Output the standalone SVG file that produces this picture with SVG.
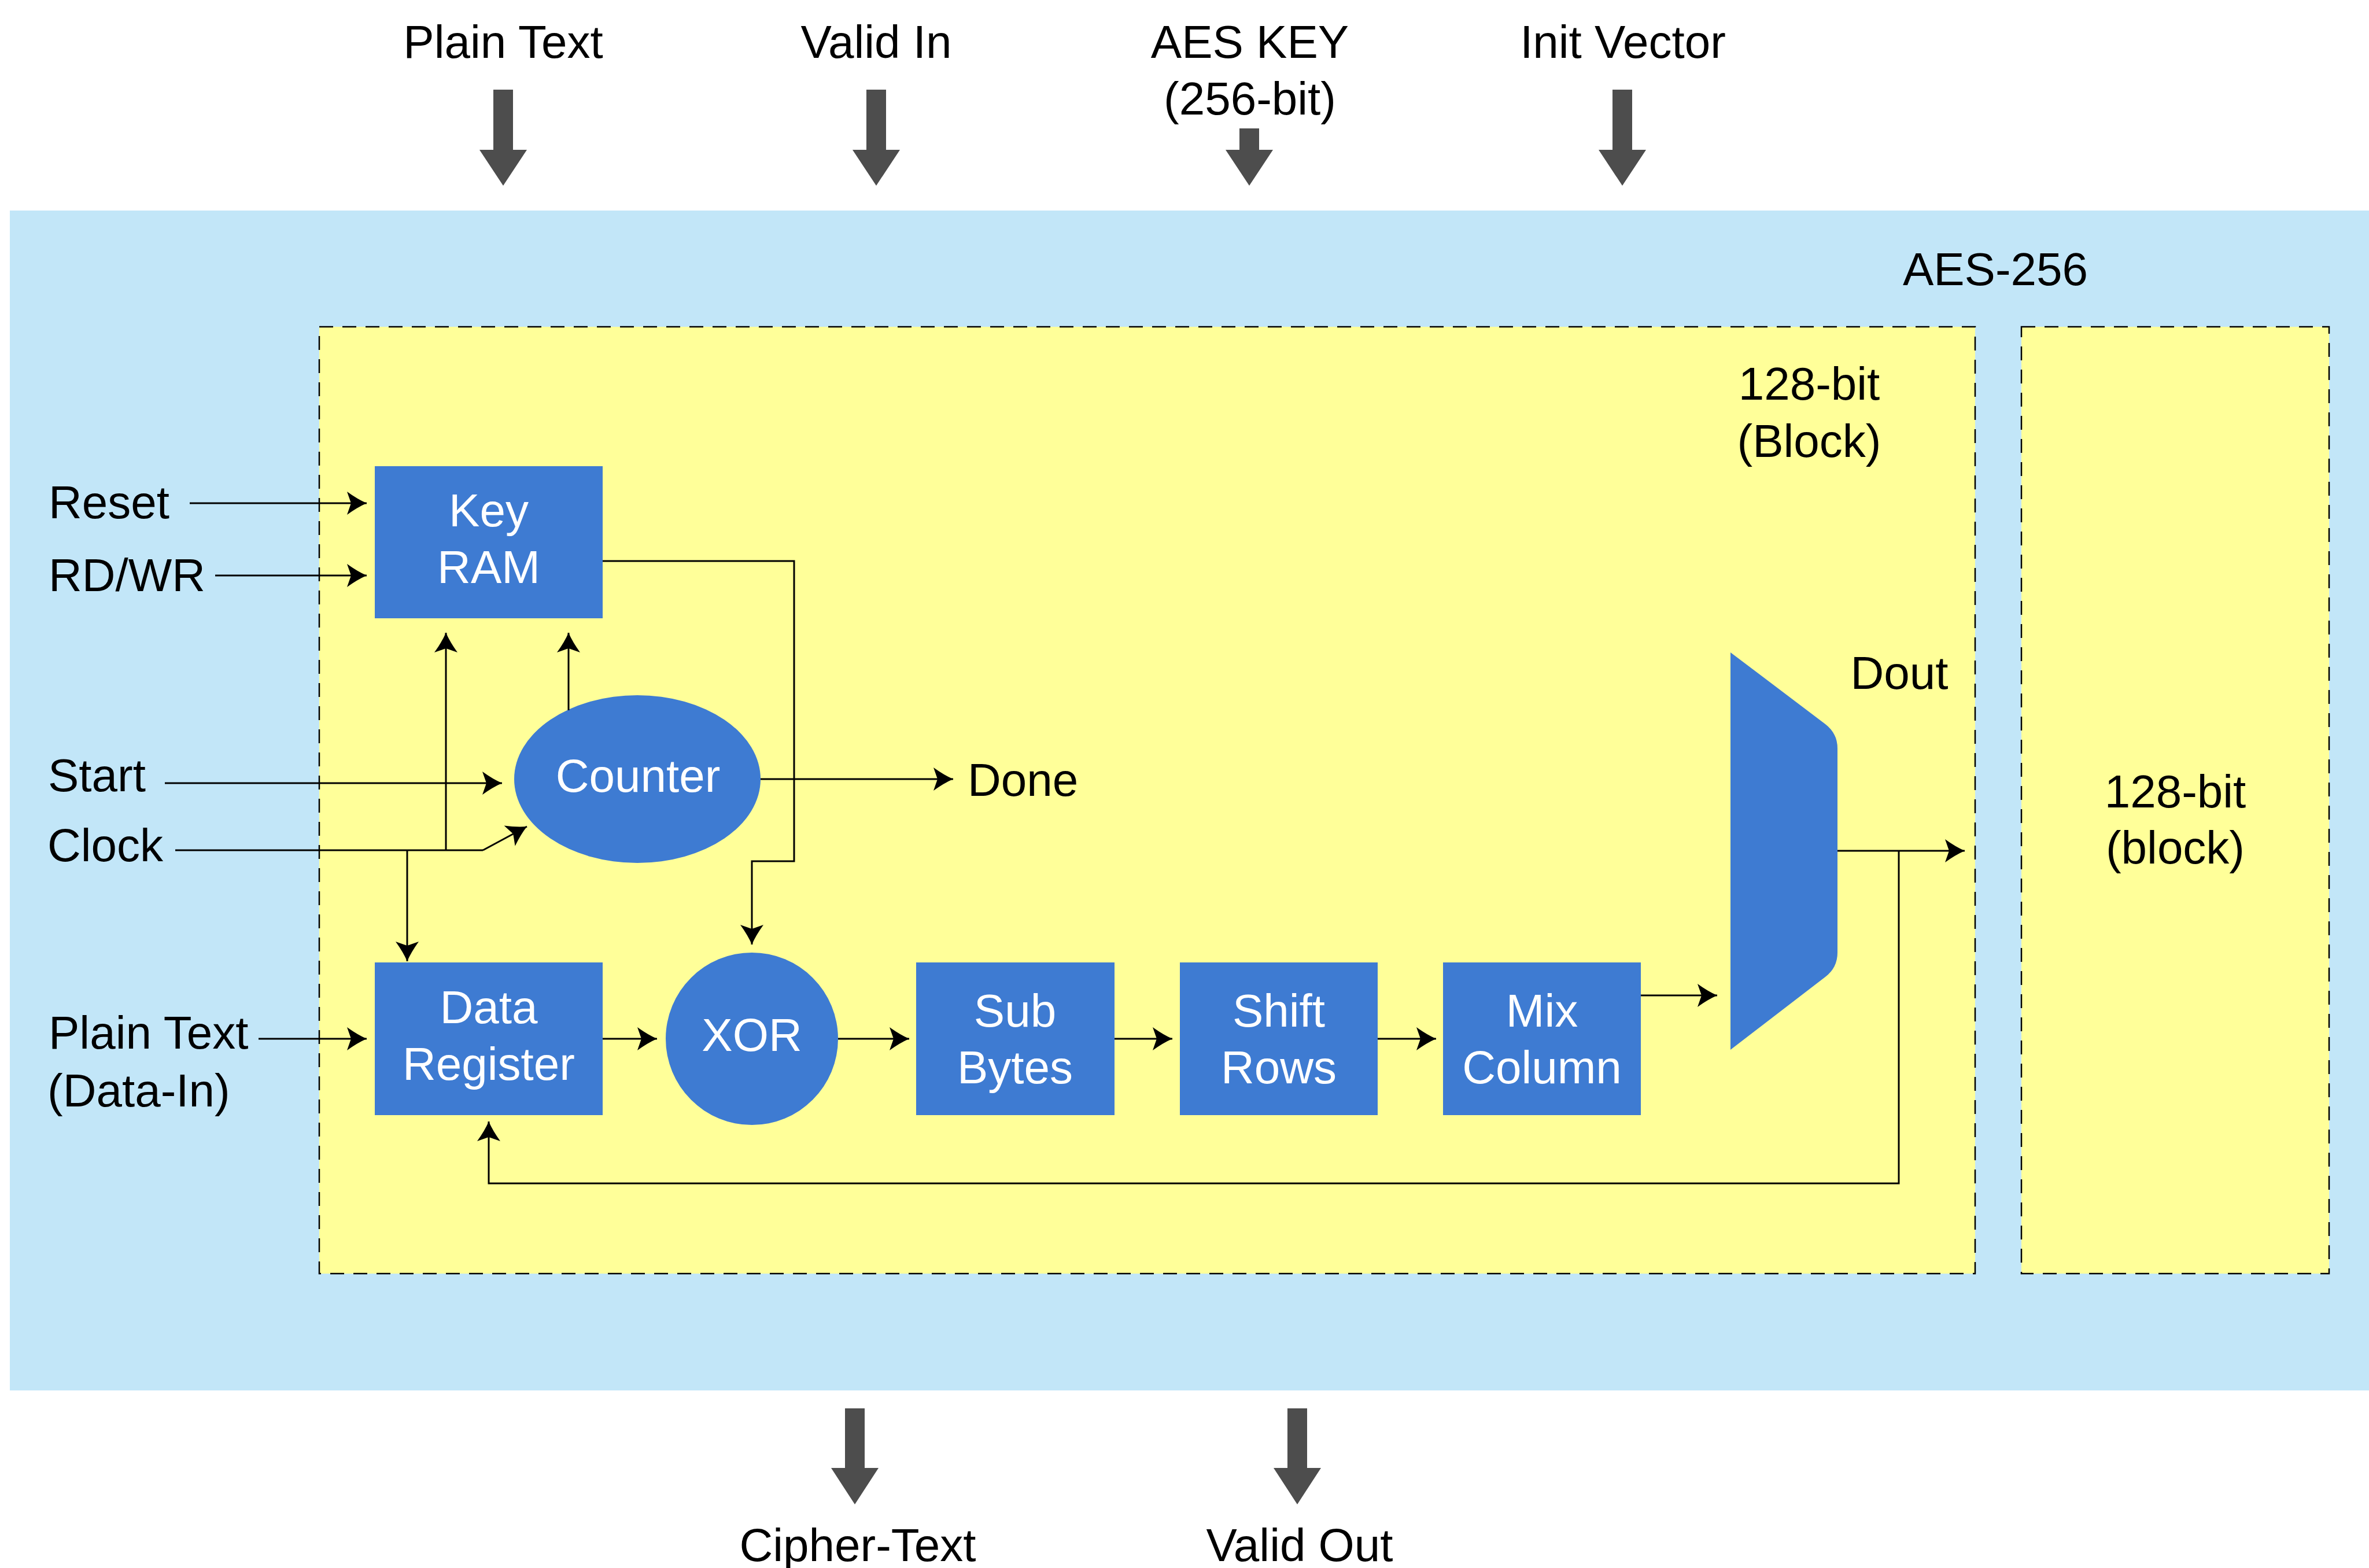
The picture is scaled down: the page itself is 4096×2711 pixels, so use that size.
<svg xmlns="http://www.w3.org/2000/svg" width="4096" height="2711" viewBox="0 0 4096 2711">
<defs>
<style>
text{font-family:"Liberation Sans",Arial,sans-serif;font-size:80px;fill:#000}
.w{fill:#fff}
.c{text-anchor:middle}
.blk{fill:#3e7bd2}
.ln{fill:none;stroke:#000;stroke-width:3}
.ar{fill:none;stroke:#000;stroke-width:3;marker-end:url(#arr)}
.big{fill:#4d4d4d}
.dash{fill:#ffff99;stroke:#000;stroke-width:2.5;stroke-dasharray:24 16}
</style>
<marker id="arr" viewBox="0 0 40 44" markerUnits="userSpaceOnUse" markerWidth="40" markerHeight="44" refX="36" refY="22" orient="auto">
<path d="M2,2 Q20,15 36,22 Q20,29 2,42 L9,22 Z" fill="#000"/>
</marker>
</defs>
<rect width="4096" height="2711" fill="#fff"/>
<g id="aes256">
<rect x="17" y="364" width="4079" height="2040" fill="#c2e6f8"/>
<text class="c" x="3450" y="493">AES-256</text>
</g>
<g id="block128">
<rect class="dash" x="552" y="565" width="2863" height="1637"/>
<text class="c" x="3128" y="691">128-bit</text>
<text class="c" x="3128" y="790">(Block)</text>
</g>
<g id="block128b">
<rect class="dash" x="3495" y="565" width="532" height="1637"/>
<text class="c" x="3761" y="1396">128-bit</text>
<text class="c" x="3761" y="1493">(block)</text>
</g>
<g id="io-top">
<text class="c" x="870" y="100">Plain Text</text>
<text class="c" x="1515" y="100">Valid In</text>
<text class="c" x="2161" y="100">AES KEY</text>
<text class="c" x="2161" y="198">(256-bit)</text>
<text class="c" x="2806" y="100">Init Vector</text>
<polygon class="big" points="853,155 887,155 887,259 911,259 870,321 829,259 853,259"/>
<polygon class="big" points="1498,155 1532,155 1532,259 1556,259 1515,321 1474,259 1498,259"/>
<polygon class="big" points="2143,222 2177,222 2177,259 2201,259 2160,321 2119,259 2143,259"/>
<polygon class="big" points="2788,155 2822,155 2822,259 2846,259 2805,321 2764,259 2788,259"/>
</g>
<g id="io-bottom">
<polygon class="big" points="1461,2435 1495,2435 1495,2538 1519,2538 1478,2601 1437,2538 1461,2538"/>
<polygon class="big" points="2226,2435 2260,2435 2260,2538 2284,2538 2243,2601 2202,2538 2226,2538"/>
<text class="c" x="1483" y="2699">Cipher-Text</text>
<text class="c" x="2247" y="2699">Valid Out</text>
</g>
<g id="labels-left">
<text x="84" y="896">Reset</text>
<text x="84" y="1022">RD/WR</text>
<text x="83" y="1368">Start</text>
<text x="82" y="1489">Clock</text>
<text x="84" y="1813">Plain Text</text>
<text x="82" y="1913">(Data-In)</text>
<text x="1673" y="1376">Done</text>
<text class="c" x="3284" y="1191">Dout</text>
</g>
<g id="key-ram">
<rect class="blk" x="648" y="806" width="394" height="263"/>
<text class="w c" x="845" y="910">Key</text>
<text class="w c" x="845" y="1008">RAM</text>
</g>
<g id="counter">
<ellipse class="blk" cx="1102" cy="1347" rx="213" ry="145"/>
<text class="w c" x="1103" y="1369">Counter</text>
</g>
<g id="data-register">
<rect class="blk" x="648" y="1664" width="394" height="264"/>
<text class="w c" x="845" y="1769">Data</text>
<text class="w c" x="845" y="1867">Register</text>
</g>
<g id="xor">
<circle class="blk" cx="1300" cy="1796" r="149"/>
<text class="w c" x="1300" y="1817">XOR</text>
</g>
<g id="sub-bytes">
<rect class="blk" x="1584" y="1664" width="343" height="264"/>
<text class="w c" x="1755" y="1775">Sub</text>
<text class="w c" x="1755" y="1873">Bytes</text>
</g>
<g id="shift-rows">
<rect class="blk" x="2040" y="1664" width="342" height="264"/>
<text class="w c" x="2211" y="1775">Shift</text>
<text class="w c" x="2211" y="1873">Rows</text>
</g>
<g id="mix-column">
<rect class="blk" x="2495" y="1664" width="342" height="264"/>
<text class="w c" x="2666" y="1775">Mix</text>
<text class="w c" x="2666" y="1873">Column</text>
</g>
<g id="mux">
<path class="blk" d="M2992,1128 L3156,1252 Q3177,1268 3177,1294 L3177,1647 Q3177,1673 3156,1689 L2992,1815 Z"/>
</g>
<g id="connectors">
<path class="ar" d="M328,870 H634"/>
<path class="ar" d="M372,995 H634"/>
<path class="ar" d="M285,1354 H868"/>
<path class="ln" d="M303,1470 H835"/>
<path class="ar" d="M835,1470 L911,1429"/>
<path class="ar" d="M771,1470 V1094"/>
<path class="ar" d="M983,1228 V1094"/>
<path class="ar" d="M704,1470 V1662"/>
<path class="ar" d="M1042,970 H1373 V1489 H1300 V1633"/>
<path class="ar" d="M1315,1347 H1648"/>
<path class="ar" d="M447,1796 H634"/>
<path class="ar" d="M1042,1796 H1136"/>
<path class="ar" d="M1449,1796 H1572"/>
<path class="ar" d="M1927,1796 H2027"/>
<path class="ar" d="M2382,1796 H2483"/>
<path class="ar" d="M2837,1721 H2969"/>
<path class="ar" d="M3177,1471 H3397"/>
<path class="ar" d="M3283,1471 V2046 H845 V1939"/>
</g>
</svg>
